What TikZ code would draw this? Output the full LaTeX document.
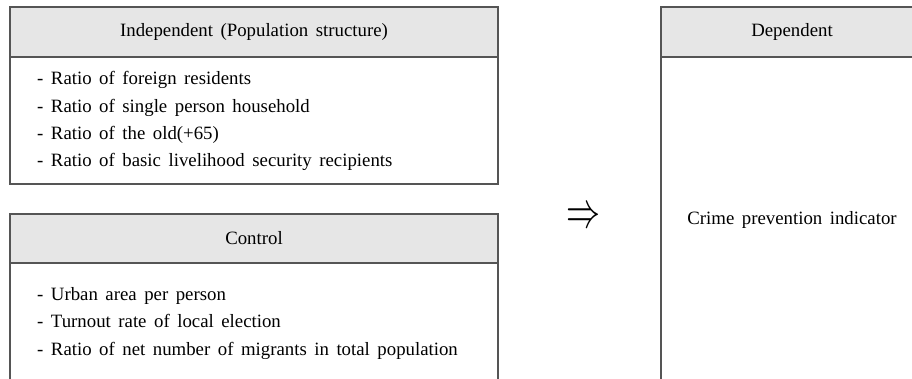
\documentclass[tikz,border=0pt]{standalone}
\usepackage{fontspec}
\setmainfont{Liberation Serif}[WordSpace=1.6]
\definecolor{headgray}{HTML}{E6E6E6}
\definecolor{linegray}{HTML}{555555}
\usetikzlibrary{positioning}

\begin{document}
\begin{tikzpicture}[x=1pt, y=-1pt,
	every node/.append style={font=\fontsize{18.8}{22}\selectfont},
	headbox/.style={shape=rectangle, draw=linegray, fill=headgray, line width=1.3pt, inner sep=0pt, outer sep=0pt},
	bodybox/.style={shape=rectangle, draw=linegray, fill=white, line width=1.3pt, inner sep=0pt, outer sep=0pt},
	itemtext/.style={anchor=base west, inner sep=0pt}]

	\clip (0,0) rectangle (912,379);
	\useasboundingbox (0,0) rectangle (912,379);

	% independent variables
	\node[headbox, minimum width=488pt, minimum height=50pt] (indephead) at (254,32) {Independent (Population structure)};
	\node[bodybox, minimum width=488pt, minimum height=127pt, below=0pt of indephead] (indepbody) {};
	\foreach \txt [count=\i] in {Ratio of foreign residents, Ratio of single person household, Ratio of the old(+65), Ratio of basic livelihood security recipients}
		\node[itemtext] (indepitem\i) at (37, 57.7+27.3*\i) {- \txt};

	% control variables
	\node[headbox, minimum width=488pt, minimum height=49pt] (ctrlhead) at (254,238.5) {Control};
	\node[bodybox, minimum width=488pt, minimum height=200pt, below=0pt of ctrlhead] (ctrlbody) {};
	\foreach \txt [count=\i] in {Urban area per person, Turnout rate of local election, Ratio of net number of migrants in total population}
		\node[itemtext] (ctrlitem\i) at (37, 272.5+27.5*\i) {- \txt};

	\node[inner sep=0pt] (implies) at (583,218) {\scalebox{1}[1.5]{\resizebox{34pt}{!}{$\Rightarrow$}}};

	% dependent variable
	\node[headbox, minimum width=262pt, minimum height=50pt] (dephead) at (792,32) {Dependent};
	\node[bodybox, minimum width=262pt, minimum height=326pt, below=0pt of dephead] (depbody) {Crime prevention indicator};
\end{tikzpicture}
\end{document}
